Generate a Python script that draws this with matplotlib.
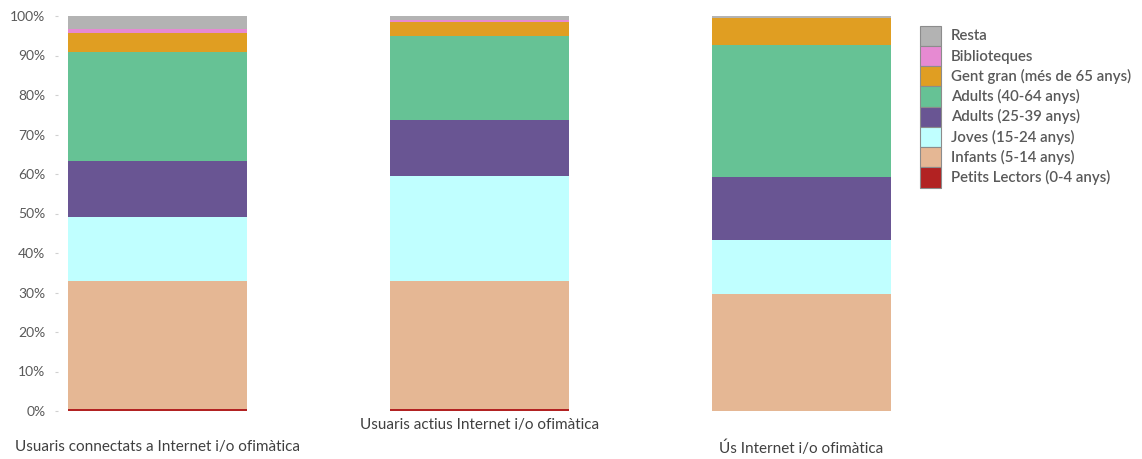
import matplotlib.pyplot as plt
import numpy as np
from matplotlib.patches import Patch

categories = ['Usuaris connectats a Internet i/o ofimàtica',
              'Usuaris actius Internet i/o ofimàtica',
              'Ús Internet i/o ofimàtica']

# percentages per group, bottom to top
groups = ['Petits Lectors (0-4 anys)', 'Infants (5-14 anys)', 'Joves (15-24 anys)',
          'Adults (25-39 anys)', 'Adults (40-64 anys)', 'Gent gran (més de 65 anys)',
          'Biblioteques', 'Resta']
petits = [0.4, 0.4, 0.1]
infants = [32.5, 32.5, 29.5]
joves = [16.2, 26.6, 13.7]
adults_25 = [14.2, 14.2, 15.9]
adults_40 = [27.7, 21.2, 33.5]
gent_gran = [4.7, 3.7, 6.8]
biblioteques = [1.1, 0.5, 0.05]
resta = [3.2, 0.9, 0.45]

colors = ['#b22222', '#e5b794', '#c0ffff', '#695593', '#66c295',
          '#e09e22', '#e68ad2', '#b3b3b3']

series = [petits, infants, joves, adults_25, adults_40, gent_gran, biblioteques, resta]

plt.rcParams['font.family'] = ['Lato', 'DejaVu Sans']

fig = plt.figure(figsize=(11.42, 4.59), dpi=100)
ax = fig.add_axes([58 / 1142, 48 / 459, 843 / 1142, 395 / 459])

x = np.arange(len(categories))
bottom = np.zeros(len(categories))
for vals, col in zip(series, colors):
    ax.bar(x, vals, width=0.556, bottom=bottom, color=col, linewidth=0)
    bottom += np.array(vals)

ax.set_xlim(-0.309, 2.309)
ax.set_ylim(0, 100)
ax.set_yticks(np.arange(0, 101, 10))
ax.set_yticklabels([f'{v}%' for v in range(0, 101, 10)])
ax.tick_params(axis='y', length=2, color='#d0d0d0', labelcolor='#595959',
               labelsize=10, pad=7)

ax.set_xticks(x)
ax.set_xticklabels(categories)
ax.tick_params(axis='x', length=0, labelcolor='#404040', labelsize=11)
for i, t in enumerate(ax.xaxis.get_major_ticks()):
    t.set_pad(5 if i % 2 else 21)

for s in ax.spines.values():
    s.set_visible(False)

handles = [Patch(facecolor=c, edgecolor='#8c8c8c', linewidth=0.8, label=g)
           for g, c in zip(groups, colors)][::-1]
fig.legend(handles=handles, loc='upper left', bbox_to_anchor=(907 / 1142, 1 - 12 / 459),
           frameon=False, prop={'size': 10.8, 'weight': 'semibold'},
           handlelength=1.4, handleheight=1.7, labelspacing=0.0,
           handletextpad=0.65, labelcolor='#595959')

fig.savefig('out.png', dpi=100)
